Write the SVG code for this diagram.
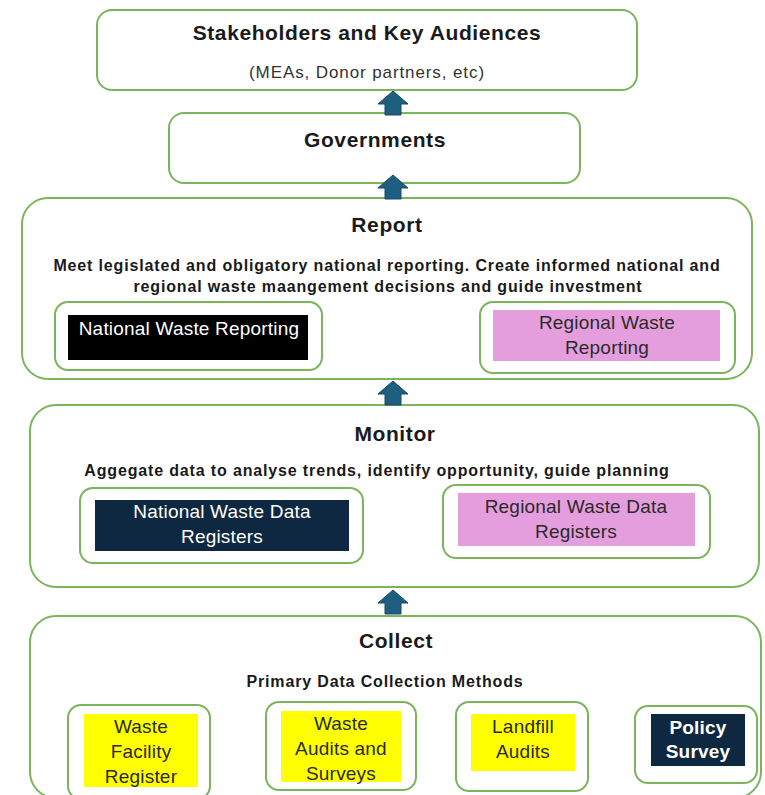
<svg xmlns="http://www.w3.org/2000/svg" width="765" height="795" viewBox="0 0 765 795">
  <style>
    .frame { fill: #ffffff; stroke: #7cb45c; stroke-width: 2; }
    .inner { fill: #ffffff; stroke: #7cb45c; stroke-width: 2; }
    .arrow { fill: #1e5f80; stroke: #164a64; stroke-width: 1; }
    text { font-family: "Liberation Sans", Arial, sans-serif; text-anchor: middle; fill: #1a1a1a; }
    .title { font-size: 21px; font-weight: bold; letter-spacing: 0.6px; }
    .sub { font-size: 17px; letter-spacing: 0.9px; fill: #333333; }
    .desc { font-size: 16px; font-weight: bold; letter-spacing: 0.85px; }
    .lbl { font-size: 19px; letter-spacing: 0.2px; fill: #2a2a2a; }
    .lbl-w { font-size: 19px; letter-spacing: 0.2px; fill: #ffffff; }
    .navy { fill: #0e2841; }
    .black { fill: #000000; }
    .pink { fill: #e59edd; }
    .yellow { fill: #ffff00; }
  </style>
  <defs>
    <!-- block arrow pointing up, tip at (0,0) -->
    <path id="up" d="M0 0 L15 13 L8 13 L8 24 L-8 24 L-8 13 L-15 13 Z"/>
  </defs>

  <rect width="765" height="795" fill="#ffffff"/>

  <g id="stakeholders">
    <rect class="frame" x="97" y="10" width="540" height="80" rx="15"/>
    <text class="title" x="367" y="40">Stakeholders and Key Audiences</text>
    <text class="sub" x="367" y="78">(MEAs, Donor partners, etc)</text>
  </g>

  <g id="governments">
    <rect class="frame" x="169" y="113" width="411" height="70" rx="15"/>
    <text class="title" x="375" y="147">Governments</text>
  </g>

  <g id="report">
    <rect class="frame" x="22" y="198" width="730" height="181" rx="26"/>
    <text class="title" x="387" y="232">Report</text>
    <text class="desc" x="387" y="271">Meet legislated and obligatory national reporting. Create informed national and</text>
    <text class="desc" x="388" y="292">regional waste maangement decisions and guide investment</text>
    <g id="national-reporting">
      <rect class="inner" x="55" y="302" width="267" height="68" rx="13"/>
      <rect class="black" x="68" y="315" width="240" height="45"/>
      <text class="lbl-w" x="189" y="335">National Waste Reporting</text>
    </g>
    <g id="regional-reporting">
      <rect class="inner" x="480" y="302" width="255" height="71" rx="13"/>
      <rect class="pink" x="493" y="310" width="227" height="51"/>
      <text class="lbl" x="607" y="329">Regional Waste</text>
      <text class="lbl" x="607" y="354">Reporting</text>
    </g>
  </g>

  <g id="monitor">
    <rect class="frame" x="30" y="405" width="729" height="182" rx="26"/>
    <text class="title" x="395" y="441">Monitor</text>
    <text class="desc" x="377" y="476">Aggegate data to analyse trends, identify opportunity, guide planning</text>
    <g id="national-registers">
      <rect class="inner" x="80" y="488" width="283" height="75" rx="13"/>
      <rect class="navy" x="95" y="500" width="254" height="51"/>
      <text class="lbl-w" x="222" y="518">National Waste Data</text>
      <text class="lbl-w" x="222" y="543">Registers</text>
    </g>
    <g id="regional-registers">
      <rect class="inner" x="443" y="485" width="267" height="73" rx="13"/>
      <rect class="pink" x="458" y="493" width="237" height="53"/>
      <text class="lbl" x="576" y="513">Regional Waste Data</text>
      <text class="lbl" x="576" y="538">Registers</text>
    </g>
  </g>

  <g id="collect">
    <rect class="frame" x="30" y="616" width="731" height="182" rx="26"/>
    <text class="title" x="396" y="648">Collect</text>
    <text class="desc" x="385" y="687">Primary Data Collection Methods</text>
    <g id="facility-register">
      <rect class="inner" x="68" y="705" width="142" height="94" rx="13"/>
      <rect class="yellow" x="84" y="714" width="114" height="73"/>
      <text class="lbl" x="141" y="733">Waste</text>
      <text class="lbl" x="141" y="758">Facility</text>
      <text class="lbl" x="141" y="783">Register</text>
    </g>
    <g id="audits-surveys">
      <rect class="inner" x="266" y="702" width="150" height="88" rx="13"/>
      <rect class="yellow" x="281" y="711" width="120" height="71"/>
      <text class="lbl" x="341" y="730">Waste</text>
      <text class="lbl" x="341" y="755">Audits and</text>
      <text class="lbl" x="341" y="780">Surveys</text>
    </g>
    <g id="landfill-audits">
      <rect class="inner" x="456" y="702" width="132" height="89" rx="13"/>
      <rect class="yellow" x="471" y="714" width="104" height="57"/>
      <text class="lbl" x="523" y="733">Landfill</text>
      <text class="lbl" x="523" y="758">Audits</text>
    </g>
    <g id="policy-survey">
      <rect class="inner" x="635" y="706" width="122" height="77" rx="13"/>
      <rect class="navy" x="651" y="714" width="94" height="52"/>
      <text class="lbl-w" x="698" y="734" font-weight="bold">Policy</text>
      <text class="lbl-w" x="698" y="758" font-weight="bold">Survey</text>
    </g>
  </g>

  <!-- connectors: block arrows drawn over the box edges -->
  <g id="connectors">
    <use href="#up" class="arrow" x="393" y="91"/>
    <use href="#up" class="arrow" x="393" y="175"/>
    <use href="#up" class="arrow" x="393" y="381"/>
    <use href="#up" class="arrow" x="393" y="590"/>
  </g>
</svg>
